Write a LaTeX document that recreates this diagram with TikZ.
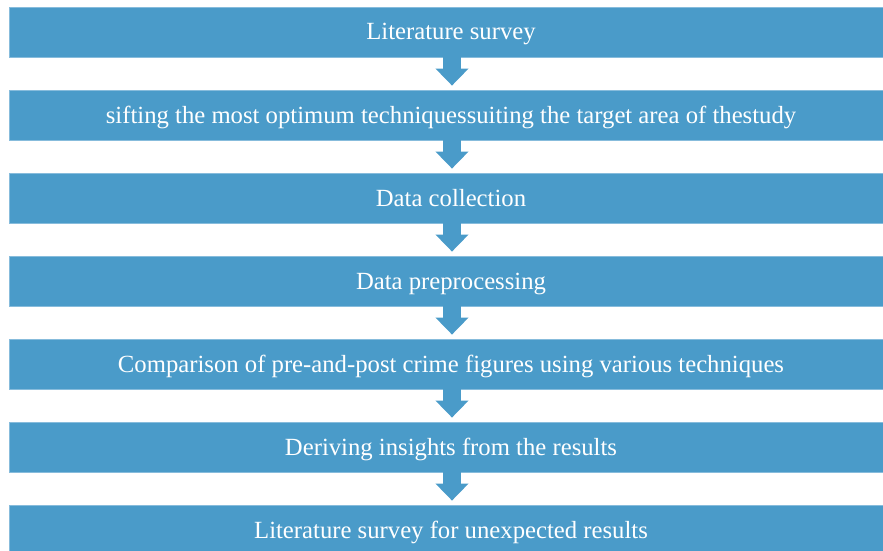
\documentclass[tikz,border=0pt]{standalone}
\usepackage{fontspec}
\setmainfont{Liberation Serif}
\usetikzlibrary{arrows.meta}
\definecolor{boxblue}{RGB}{74,155,201}
\definecolor{boxedge}{RGB}{135,188,220}
\tikzset{
  stepbox/.style={rectangle, fill=boxblue, draw=boxedge, line width=0.8pt,
    minimum width=884pt, minimum height=50pt, inner sep=0pt,
    text height=20pt, text depth=4pt,
    text=white, font=\fontsize{24.7pt}{28pt}\selectfont},
  flow/.style={draw=boxblue, line width=18pt,
    -{Triangle[width=32pt,length=17pt,fill=boxblue]}}
}
\begin{document}
\begin{tikzpicture}[x=1pt,y=-1pt]
\useasboundingbox (0,0) rectangle (883,551);
\clip (0,0) rectangle (883,551);
\node[stepbox] (b1) at (451,32)  {Literature survey};
\node[stepbox] (b2) at (451,115) {sifting the most optimum techniquessuiting the target area of thestudy};
\node[stepbox] (b3) at (451,198) {Data collection};
\node[stepbox] (b4) at (451,281) {Data preprocessing};
\node[stepbox] (b5) at (451,364) {Comparison of pre-and-post crime figures using various techniques};
\node[stepbox] (b6) at (451,447) {Deriving insights from the results};
\node[stepbox] (b7) at (451,530) {Literature survey for unexpected results};
\foreach \a/\b in {b1/b2,b2/b3,b3/b4,b4/b5,b5/b6,b6/b7}{
  \draw[flow] ([xshift=1pt]\a.south) -- ([xshift=1pt,yshift=4pt]\b.north);
}
\end{tikzpicture}
\end{document}
